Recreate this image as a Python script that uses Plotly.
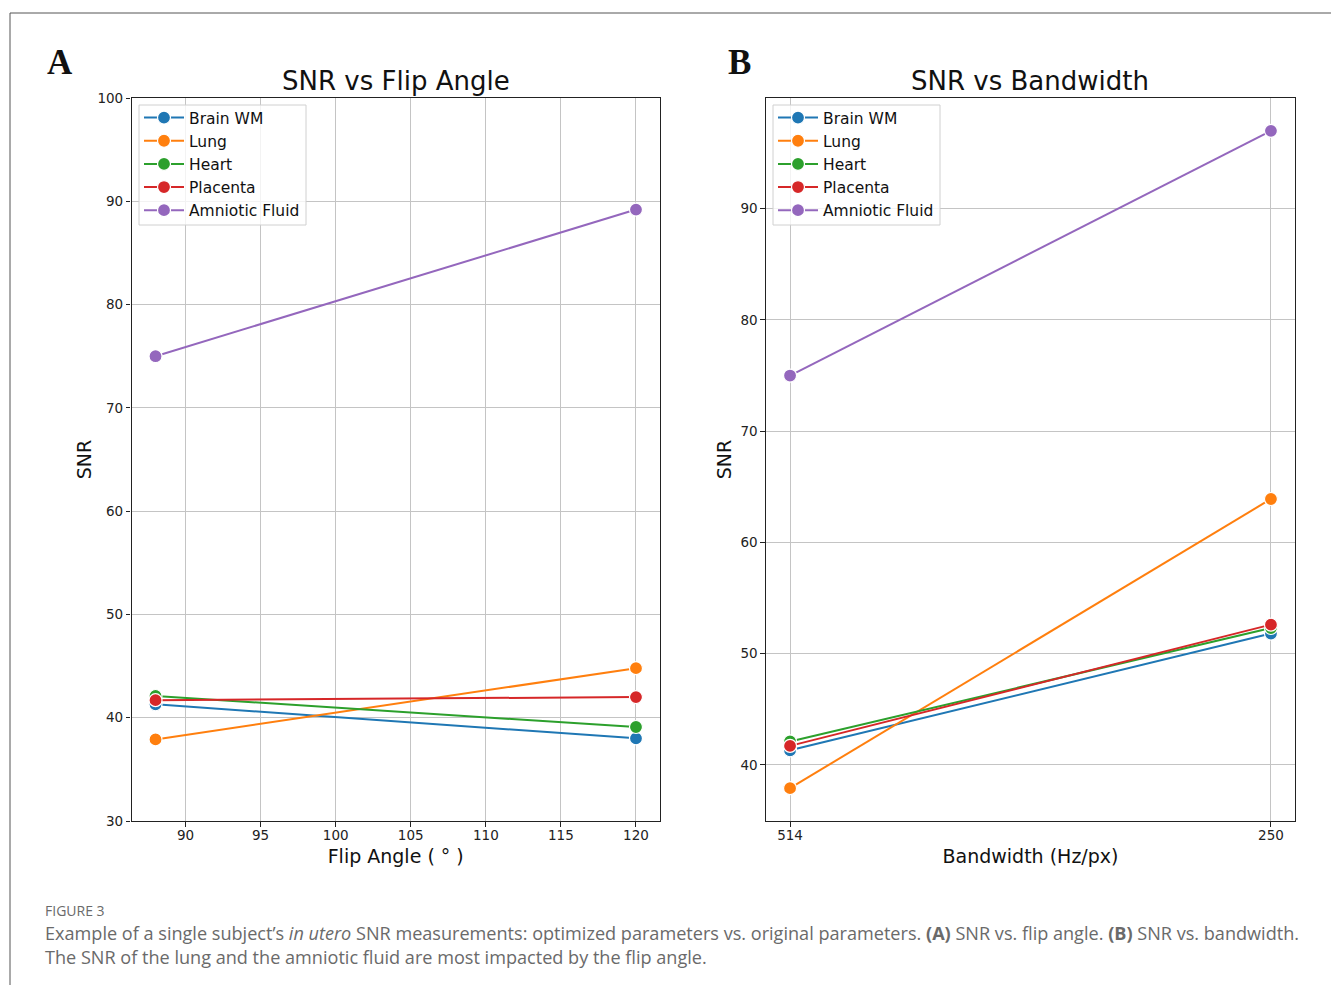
import plotly.graph_objects as go

W, H = 1331, 985

tissues = ["Brain WM", "Lung", "Heart", "Placenta", "Amniotic Fluid"]
colors = ["#1f77b4", "#ff7f0e", "#2ca02c", "#d62728", "#9467bd"]

flip_angles = [88, 120]
snr_flip = {
    "Brain WM": [41.3, 38.0],
    "Lung": [37.9, 44.8],
    "Heart": [42.1, 39.1],
    "Placenta": [41.7, 42.0],
    "Amniotic Fluid": [75.0, 89.2],
}

bandwidths = ["514", "250"]
snr_bw = {
    "Brain WM": [41.3, 51.8],
    "Lung": [37.9, 63.9],
    "Heart": [42.1, 52.3],
    "Placenta": [41.7, 52.6],
    "Amniotic Fluid": [75.0, 97.0],
}

left_xticks = [90, 95, 100, 105, 110, 115, 120]
left_yticks = [30, 40, 50, 60, 70, 80, 90, 100]
right_yticks = [40, 50, 60, 70, 80, 90]


def px(x):
    return x / W


def py(y):
    return 1 - y / H


FONT = "DejaVu Sans"
fig = go.Figure()

bw_idx = list(range(len(bandwidths)))
for name, col in zip(tissues, colors):
    fig.add_trace(go.Scatter(
        x=flip_angles, y=snr_flip[name], name=name, mode="lines+markers",
        line=dict(color=col, width=2),
        marker=dict(color=col, size=13, line=dict(color="white", width=1.2)),
        xaxis="x", yaxis="y", legend="legend",
    ))
for name, col in zip(tissues, colors):
    fig.add_trace(go.Scatter(
        x=bw_idx, y=snr_bw[name], name=name, mode="lines+markers",
        line=dict(color=col, width=2),
        marker=dict(color=col, size=13, line=dict(color="white", width=1.2)),
        xaxis="x2", yaxis="y2", legend="legend2",
    ))

axis_common = dict(
    showline=True, linecolor="#222", linewidth=1.2, mirror=True,
    showgrid=True, gridcolor="#c4c4c4", gridwidth=1,
    ticks="outside", ticklen=4.5, tickcolor="#222", zeroline=False,
    tickfont=dict(family=FONT, size=13.5, color="#222"),
)
title_font = dict(family=FONT, size=19, color="#111")

fmin, fmax = min(flip_angles), max(flip_angles)
fpad = (fmax - fmin) * 0.05
all_bw = [v for k in tissues for v in snr_bw[k]]
bmin, bmax = min(all_bw), max(all_bw)
bpad = (bmax - bmin) * 0.05

legend_common = dict(
    xanchor="left", yanchor="top",
    bgcolor="rgba(0,0,0,0)", borderwidth=0,
    font=dict(family=FONT, size=15.5, color="#111"), tracegroupgap=0, itemwidth=40,
)

fig.update_layout(
    width=W, height=H,
    margin=dict(l=0, r=0, t=0, b=0, autoexpand=False),
    paper_bgcolor="white", plot_bgcolor="white",
    showlegend=True,
    xaxis=dict(domain=[px(131.5), px(660)], range=[fmin - fpad, fmax + fpad],
               tickvals=left_xticks, anchor="y", ticklabelstandoff=-3,
               title=dict(text="Flip Angle ( ° )", font=title_font, standoff=7),
               **axis_common),
    yaxis=dict(domain=[py(821), py(98)], range=[30, 100], tickvals=left_yticks, anchor="x",
               title=dict(text="SNR", font=title_font, standoff=0),
               **axis_common),
    xaxis2=dict(domain=[px(766), px(1295)], range=[-0.05, 1.05], tickvals=bw_idx,
                ticktext=bandwidths, anchor="y2", ticklabelstandoff=-3,
                title=dict(text="Bandwidth (Hz/px)", font=title_font, standoff=7),
                **axis_common),
    yaxis2=dict(domain=[py(821), py(98)], range=[bmin - bpad, bmax + bpad], tickvals=right_yticks,
                anchor="x2",
                title=dict(text="SNR", font=title_font, standoff=3),
                **axis_common),
    legend=dict(x=px(139), y=py(101), **legend_common),
    legend2=dict(x=px(773), y=py(101), **legend_common),
)

annotations = [
    dict(text="SNR vs Flip Angle", x=px(396), y=py(81), xanchor="center", yanchor="middle",
         font=dict(family=FONT, size=26, color="#111")),
    dict(text="SNR vs Bandwidth", x=px(1030), y=py(81), xanchor="center", yanchor="middle",
         font=dict(family=FONT, size=26, color="#111")),
    dict(text="<b>A</b>", x=px(60), y=py(63), xanchor="center", yanchor="middle",
         font=dict(family="Liberation Serif", size=35, color="#111")),
    dict(text="<b>B</b>", x=px(739), y=py(63), xanchor="center", yanchor="middle",
         font=dict(family="Liberation Serif", size=35, color="#111")),
    dict(text="FIGURE 3", x=px(43), y=py(910), xanchor="left", yanchor="middle",
         font=dict(family="Open Sans", size=14, color="#6a6a6a")),
    dict(text="Example of a single subject’s <i>in utero</i> SNR measurements: optimized parameters vs. original parameters. "
              "<b>(A)</b> SNR vs. flip angle. <b>(B)</b> SNR vs. bandwidth.",
         x=px(43), y=py(933), xanchor="left", yanchor="middle",
         font=dict(family="Open Sans", size=18.1, color="#6a6a6a")),
    dict(text="The SNR of the lung and the amniotic fluid are most impacted by the flip angle.",
         x=px(43), y=py(957), xanchor="left", yanchor="middle",
         font=dict(family="Open Sans", size=18.1, color="#6a6a6a")),
]
for a in annotations:
    a.update(xref="paper", yref="paper", showarrow=False)
fig.update_layout(annotations=annotations)

legend_box = dict(type="rect", xref="paper", yref="paper", layer="above",
                  fillcolor="rgba(255,255,255,0.8)", line=dict(color="#d0d0d0", width=1))
fig.update_layout(shapes=[
    dict(type="line", xref="paper", yref="paper", x0=px(10), x1=1, y0=py(13), y1=py(13),
         line=dict(color="#555", width=1)),
    dict(type="line", xref="paper", yref="paper", x0=px(10), x1=px(10), y0=py(13), y1=0,
         line=dict(color="#555", width=1)),
    dict(x0=px(139), x1=px(306), y0=py(225), y1=py(105), **legend_box),
    dict(x0=px(773), x1=px(940), y0=py(225), y1=py(105), **legend_box),
])

fig.write_html("out.html")
